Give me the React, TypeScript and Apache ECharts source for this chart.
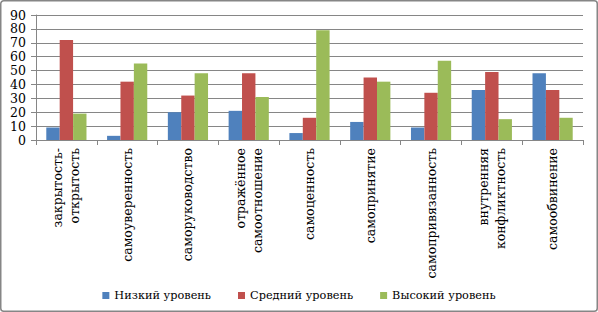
import React, { useEffect, useRef } from "react";
import * as echarts from "echarts";

const categories = [
  "закрытость-\nоткрытость",
  "самоуверенность",
  "саморуководство",
  "отражённое\nсамоотношение",
  "самоценность",
  "самопринятие",
  "самопривязанность",
  "внутренняя\nконфликтность",
  "самообвинение",
];

const seriesNames = ["Низкий уровень", "Средний уровень", "Высокий уровень"];
const lowValues = [9, 3, 20, 21, 5, 13, 9, 36, 48];
const midValues = [72, 42, 32, 48, 16, 45, 34, 49, 36];
const highValues = [19, 55, 48, 31, 79, 42, 57, 15, 16];
const colors = ["#4F81BD", "#C0504D", "#9BBB59"];

const FONT = "DejaVu Serif";

export default function App() {
  const ref = useRef<HTMLDivElement>(null);
  useEffect(() => {
    document.body.style.margin = "0";
    if (!ref.current) return;
    const chart = echarts.init(ref.current, null, { renderer: "svg" });
    const values = [lowValues, midValues, highValues];
    chart.setOption({
      animation: false,
      textStyle: { fontFamily: FONT },
      graphic: [
        {
          type: "rect",
          shape: { x: 0.75, y: 0.75, width: 596.5, height: 310.5, r: 3 },
          style: { fill: "none", stroke: "#868686", lineWidth: 1.5 },
          silent: true,
        },
      ],
      grid: { left: 36, right: 15, top: 15, bottom: 172 },
      legend: {
        data: seriesNames,
        top: 285,
        left: "center",
        icon: "rect",
        itemWidth: 7,
        itemHeight: 7,
        itemGap: 27,
        textStyle: { fontFamily: FONT, fontSize: 11.3, color: "#000" },
      },
      xAxis: {
        type: "category",
        data: categories,
        axisLine: { lineStyle: { color: "#868686", width: 1 } },
        axisTick: { show: true, length: 5, lineStyle: { color: "#868686" } },
        axisLabel: {
          interval: 0,
          rotate: 90,
          margin: 8,
          fontFamily: FONT,
          fontSize: 12.5,
          lineHeight: 17,
          color: "#000",
        },
      },
      yAxis: {
        type: "value",
        min: 0,
        max: 90,
        interval: 10,
        axisLine: { show: true, lineStyle: { color: "#868686", width: 1 } },
        axisTick: { show: true, length: 5, lineStyle: { color: "#868686" } },
        axisLabel: { fontFamily: FONT, fontSize: 12.5, color: "#000", margin: 10 },
        splitLine: { show: true, lineStyle: { color: "#868686", width: 1 } },
      },
      series: seriesNames.map((name, i) => ({
        name,
        type: "bar",
        data: values[i],
        barWidth: 13.4,
        barGap: "0%",
        itemStyle: { color: colors[i] },
      })),
    });
    return () => chart.dispose();
  }, []);
  return <div ref={ref} style={{ width: 598, height: 312 }} />;
}
